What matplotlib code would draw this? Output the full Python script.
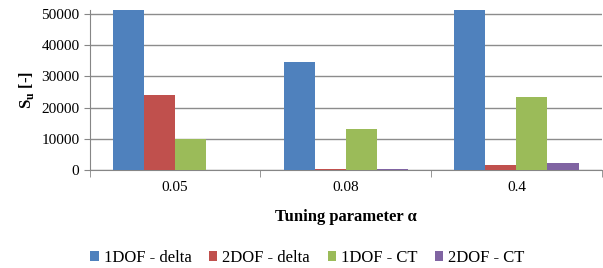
import numpy as np
import matplotlib
matplotlib.use("Agg")
import matplotlib.pyplot as plt

plt.rcParams['font.family'] = ['Liberation Serif', 'DejaVu Serif']

# data (1DOF - delta bars run off the top of the chart)
categories = ['0.05', '0.08', '0.4']
series = ['1DOF - delta', '2DOF - delta', '1DOF - CT', '2DOF - CT']
delta_1dof = [60000, 34500, 60000]
delta_2dof = [24000, 150, 1700]
ct_1dof = [9900, 13100, 23500]
ct_2dof = [100, 150, 2100]
colors = ['#4F81BD', '#C0504D', '#9BBB59', '#8064A2']

values = [delta_1dof, delta_2dof, ct_1dof, ct_2dof]

fig = plt.figure(figsize=(6.03, 2.68), dpi=100)
ax = fig.add_axes([0.149, 0.366, 0.849, 0.597])

x = np.arange(len(categories))
w = 1 / 5.5
for i, (name, v) in enumerate(zip(series, values)):
    ax.bar(x + (i - 1.5) * w, v, width=w, color=colors[i], label=name, zorder=3)

ax.set_xlim(-0.5, len(categories) - 0.5)
ax.set_ylim(0, 51300)
ax.set_yticks(np.arange(0, 50001, 10000))
ax.tick_params(axis='y', labelsize=11, length=4, color='#868686')
ax.grid(axis='y', color='#8C8C8C', linewidth=1, zorder=0)

ax.set_xticks(x)
ax.set_xticklabels(categories, fontsize=11)
ax.tick_params(axis='x', length=0, pad=8)
ax.set_xticks(np.arange(-0.5, len(categories)), minor=True)
ax.tick_params(axis='x', which='minor', length=5, color='#868686')

for s in ['top', 'right']:
    ax.spines[s].set_visible(False)
ax.spines['left'].set_color('#868686')
ax.spines['bottom'].set_color('#868686')

ax.set_ylabel(r'S$_\mathregular{u}$ [-]', fontsize=12, fontweight='bold')
ax.set_xlabel('Tuning parameter α', fontsize=12, fontweight='bold', labelpad=11)

fig.legend(loc='center', bbox_to_anchor=(0.51, 0.037), ncol=4, frameon=False,
           fontsize=12, handlelength=0.5, handleheight=0.5, columnspacing=1.05,
           handletextpad=0.3, borderaxespad=0)

fig.savefig('out.png', dpi=100)
